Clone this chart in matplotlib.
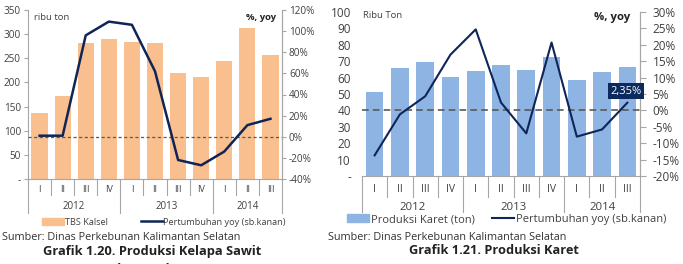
import matplotlib
matplotlib.use("Agg")
import matplotlib.pyplot as plt
import matplotlib.transforms as mtransforms
from matplotlib.patches import Patch
from matplotlib.lines import Line2D
import numpy as np

plt.rcParams['font.family'] = ['Open Sans', 'DejaVu Sans']

quarters = ["I", "II", "III", "IV", "I", "II", "III", "IV", "I", "II", "III"]
years = ["2012", "2013", "2014"]
year_counts = [4, 4, 3]

sawit_prod = [137, 172, 281, 290, 284, 281, 219, 211, 245, 313, 256]
sawit_yoy = [1, 1, 96, 109, 106, 62, -22, -27, -14, 11, 17]

karet_prod = [51.2, 65.9, 69.5, 60.4, 64.0, 67.7, 64.6, 72.6, 58.5, 63.4, 66.2]
karet_yoy = [-13.7, -1.2, 4.3, 17.0, 24.7, 2.4, -7.0, 20.7, -8.0, -5.8, 2.35]

NAVY = "#0F2557"
GRID = "#A6A6A6"
TXT = "#404040"

fig = plt.figure(figsize=(6.83, 2.64), dpi=100)


def cat_axis(ax, qfs, yfs, qy, yy, qlen, ylen):
    n = len(quarters)
    x = np.arange(n)
    ax.set_xlim(-0.5, n - 0.5)
    ax.set_xticks([])
    tr = mtransforms.blended_transform_factory(ax.transData, ax.transAxes)
    for i, q in enumerate(quarters):
        ax.text(i, qy, q, transform=tr, ha='center', va='center', fontsize=qfs, color=TXT)
    bounds = np.concatenate([[0], np.cumsum(year_counts)])
    bset = set(bounds.tolist())
    for b in range(n + 1):
        ln = ylen if b in bset else qlen
        ax.plot([b - 0.5, b - 0.5], [0, ln], transform=tr, color=GRID, lw=0.8, clip_on=False)
    for i, yname in enumerate(years):
        c = (bounds[i] + bounds[i + 1] - 1) / 2
        ax.text(c, yy, yname, transform=tr, ha='center', va='center', fontsize=yfs, color=TXT)
    return x


def style(ax, ax2, fs):
    for a in (ax, ax2):
        a.spines['top'].set_visible(False)
        for s in ('left', 'right', 'bottom'):
            a.spines[s].set_color(GRID)
            a.spines[s].set_linewidth(0.8)
        a.tick_params(axis='y', colors=TXT, labelsize=fs, length=3, width=0.8, color=GRID, pad=2)
    ax2.spines['left'].set_visible(False)
    ax2.spines['bottom'].set_visible(False)


# ---------------- Left chart ----------------
ax = fig.add_axes([28 / 683, 1 - 179 / 264, 254 / 683, 169 / 264])
ax2 = ax.twinx()
x = cat_axis(ax, 6.5, 7, -0.06, -0.16, -0.095, -0.20)
ax.bar(x, sawit_prod, width=0.7, color="#F9BF8F", zorder=2)
ax.set_ylim(0, 350)
ax.set_yticks(range(0, 351, 50))
ax.set_yticklabels(["-"] + [str(v) for v in range(50, 351, 50)])
ax2.set_ylim(-40, 120)
ax2.set_yticks(range(-40, 121, 20))
ax2.set_yticklabels([f"{v}%" for v in range(-40, 121, 20)])
ax2.axhline(0, color="#595959", lw=0.9, ls=(0, (2.5, 2)), zorder=1)
ax2.plot(x, sawit_yoy, color=NAVY, lw=1.8, zorder=3)
style(ax, ax2, 7.2)
ax.text(0.025, 0.985, "ribu ton", transform=ax.transAxes, ha='left', va='top', fontsize=6.8, color=TXT)
ax.text(0.975, 0.985, "%, yoy", transform=ax.transAxes, ha='right', va='top', fontsize=6.8,
        color="#222222", fontweight='bold')
ax.legend([Patch(color="#F9BF8F"), Line2D([0], [0], color=NAVY, lw=1.8)],
          ["TBS Kalsel", "Pertumbuhan yoy (sb.kanan)"],
          loc='center', bbox_to_anchor=(0.535, -0.255), ncol=2, frameon=False,
          fontsize=6.6, handlelength=2.4, handleheight=0.8, handletextpad=0.1,
          columnspacing=3.6, labelcolor=TXT)

# ---------------- Right chart ----------------
bx = fig.add_axes([362 / 683, 1 - 176 / 264, 278 / 683, 164 / 264])
bx2 = bx.twinx()
x = cat_axis(bx, 7.5, 8.2, -0.08, -0.19, -0.13, -0.22)
bx.bar(x, karet_prod, width=0.7, color="#8DB4E2", zorder=2)
bx.set_ylim(0, 100)
bx.set_yticks(range(0, 101, 10))
bx.set_yticklabels(["-"] + [str(v) for v in range(10, 101, 10)])
bx2.set_ylim(-20, 30)
bx2.set_yticks(range(-20, 31, 5))
bx2.set_yticklabels([f"{v}%" for v in range(-20, 31, 5)])
bx2.axhline(0, color="#595959", lw=1.2, ls=(0, (4, 2.5)), zorder=1)
bx2.plot(x, karet_yoy, color=NAVY, lw=1.5, zorder=3)
style(bx, bx2, 8.5)
bx.spines['left'].set_visible(False)
bx.tick_params(axis='y', length=0, pad=8)
bx2.tick_params(axis='y', length=4, pad=5)
bx.text(0.005, 1.005, "Ribu Ton", transform=bx.transAxes, ha='left', va='top', fontsize=6.8, color=TXT)
bx.text(0.965, 1.0, "%, yoy", transform=bx.transAxes, ha='right', va='top', fontsize=8.2,
        color="#222222", fontweight='bold')
bx2.text(x[-1] - 0.05, karet_yoy[-1] + 3.5, "2,35%", ha='center', va='center', fontsize=8,
         color="white", zorder=5,
         bbox=dict(boxstyle='square,pad=0.2', fc="#0B2A5E", ec="none"))
bx.legend([Patch(color="#8DB4E2"), Line2D([0], [0], color=NAVY, lw=1.5)],
          ["Produksi Karet (ton)", "Pertumbuhan yoy (sb.kanan)"],
          loc='center', bbox_to_anchor=(0.52, -0.265), ncol=2, frameon=False,
          fontsize=8, handlelength=2.0, handleheight=0.8, handletextpad=0.1,
          columnspacing=1.6, labelcolor=TXT)

# ---------------- Captions ----------------
fig.text(2 / 683, 1 - 237 / 264, "Sumber: Dinas Perkebunan Kalimantan Selatan", ha='left', va='center',
         fontsize=7.8, color="#333333")
fig.text(152 / 683, 1 - 252 / 264, "Grafik 1.20. Produksi Kelapa Sawit", ha='center', va='center',
         fontsize=9.3, fontweight='bold', color="#222222")
fig.text(152 / 683, 1 - 269 / 264, "(Tandan Buah Segar)", ha='center', va='center',
         fontsize=9.3, fontweight='bold', color="#222222")
fig.text(328 / 683, 1 - 237 / 264, "Sumber: Dinas Perkebunan Kalimantan Selatan", ha='left', va='center',
         fontsize=7.8, color="#333333")
fig.text(494 / 683, 1 - 251 / 264, "Grafik 1.21. Produksi Karet", ha='center', va='center',
         fontsize=9.2, fontweight='bold', color="#222222")

fig.savefig("out.png", dpi=100)
